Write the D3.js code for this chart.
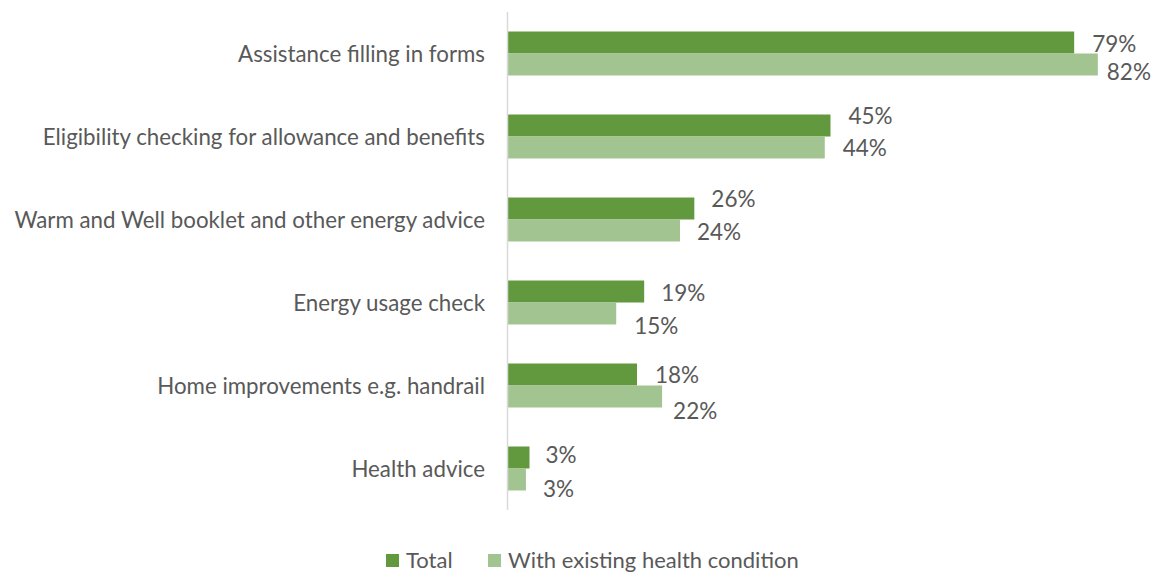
<!DOCTYPE html>
<html>
<head>
<meta charset="UTF-8">
<title>Support received</title>
<script src="https://d3js.org/d3.v7.min.js"></script>
<style>
  body { margin: 0; background: #fff; }
  text { font-family: Lato, "Open Sans", sans-serif; fill: #595959; }
</style>
</head>
<body>
<svg width="1157" height="574"></svg>
<script>
// chart data
const categories = [
  "Assistance filling in forms",
  "Eligibility checking for allowance and benefits",
  "Warm and Well booklet and other energy advice",
  "Energy usage check",
  "Home improvements e.g. handrail",
  "Health advice"
];
const seriesNames = ["Total", "With existing health condition"];
const totalValues = [79, 45, 26, 19, 18, 3];
const healthValues = [82.3, 44.2, 24, 15.1, 21.5, 2.5];

const colors = ["#62993e", "#a2c490"];

// manual label nudges [dx from bar end, dy from bar centre], as placed in the original
const labelNudge = [
  [[18, 1.5], [9, 7.5]],
  [[18, -9.5], [18, 0.5]],
  [[17, -10], [17, 1.5]],
  [[17, 1], [18, 12]],
  [[18, 0], [11, 14]],
  [[16, -2.5], [17, 9]]
];

const rows = categories.map((c, i) => ({
  category: c,
  values: [totalValues[i], healthValues[i]]
}));

const svg = d3.select("svg");

const x = d3.scaleLinear().domain([0, 90]).range([508, 1153]);

const y0 = d3.scaleBand()
  .domain(categories)
  .range([12, 510])
  .paddingInner(0.47)
  .paddingOuter(0.235);

const y1 = d3.scaleBand()
  .domain(seriesNames)
  .range([0, y0.bandwidth()]);

const fmt = d3.format(".0f");

// bars
const groups = svg.selectAll("g.cat")
  .data(rows)
  .enter().append("g")
  .attr("class", "cat")
  .attr("transform", d => `translate(0,${y0(d.category)})`);

groups.selectAll("rect")
  .data(d => d.values.map((v, j) => ({ v, j })))
  .enter().append("rect")
  .attr("x", x(0))
  .attr("y", d => y1(seriesNames[d.j]))
  .attr("width", d => x(d.v) - x(0))
  .attr("height", y1.bandwidth())
  .attr("fill", d => colors[d.j]);

// value labels
groups.each(function (d, i) {
  d3.select(this).selectAll("text.val")
    .data(d.values.map((v, j) => ({ v, j })))
    .enter().append("text")
    .attr("class", "val")
    .attr("x", e => x(e.v) + labelNudge[i][e.j][0])
    .attr("y", e => y1(seriesNames[e.j]) + y1.bandwidth() / 2 + labelNudge[i][e.j][1])
    .attr("dy", "0.36em")
    .attr("font-size", "22.5px")
    .text(e => fmt(e.v) + "%");
});

// vertical axis line
svg.append("line")
  .attr("x1", 507.5).attr("x2", 507.5)
  .attr("y1", 12).attr("y2", 510)
  .attr("stroke", "#d9d9d9")
  .attr("stroke-width", 1.5);

// category labels
svg.selectAll("text.cat")
  .data(categories)
  .enter().append("text")
  .attr("class", "cat")
  .attr("x", 485)
  .attr("y", d => y0(d) + y0.bandwidth() / 2)
  .attr("dy", "0.36em")
  .attr("text-anchor", "end")
  .attr("font-size", "22.3px")
  .text(d => d);

// legend
const legendX = [386, 488];
const legend = svg.selectAll("g.legend")
  .data(seriesNames)
  .enter().append("g")
  .attr("class", "legend")
  .attr("transform", (d, i) => `translate(${legendX[i]},554)`);

legend.append("rect")
  .attr("width", 13)
  .attr("height", 13)
  .attr("fill", (d, i) => colors[i]);

legend.append("text")
  .attr("x", 20)
  .attr("y", 6.5)
  .attr("dy", "0.36em")
  .attr("font-size", "22px")
  .text(d => d);
</script>
</body>
</html>
